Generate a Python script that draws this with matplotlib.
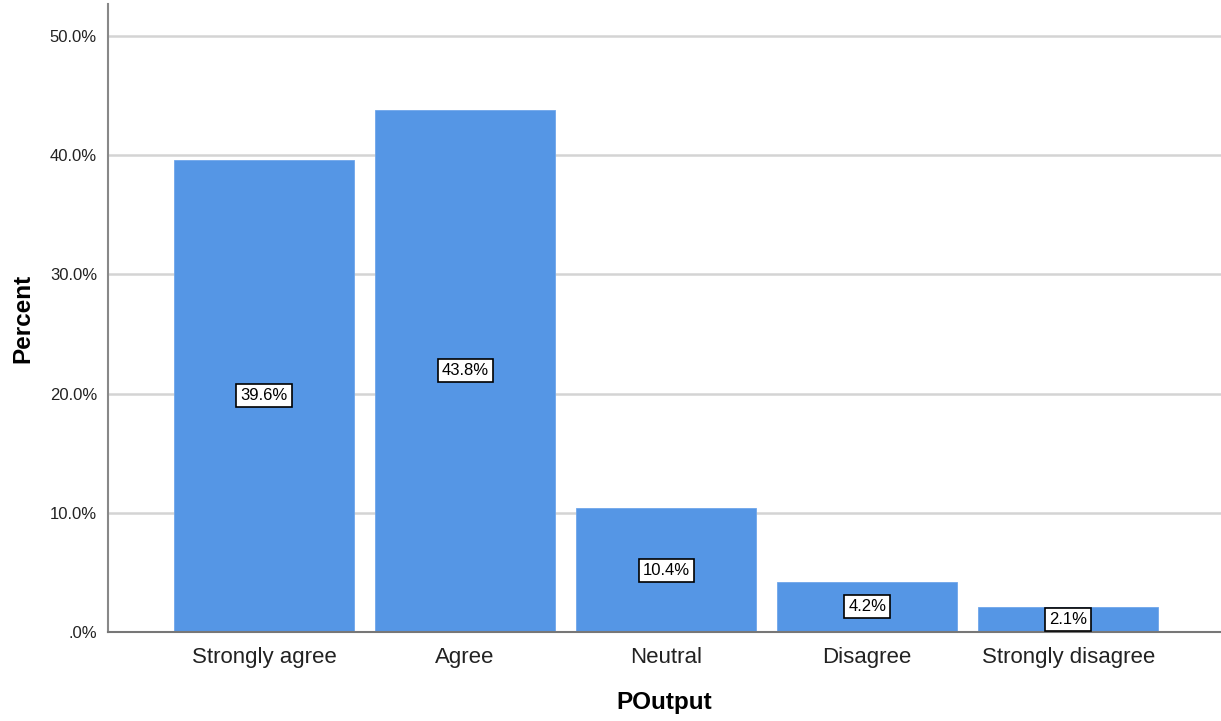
import matplotlib.pyplot as plt
import numpy as np

plt.rcParams.update({
    'font.family': ['Liberation Sans', 'DejaVu Sans'],
})

categories = ['Strongly agree', 'Agree', 'Neutral', 'Disagree', 'Strongly disagree']
percents = [39.6, 43.8, 10.4, 4.2, 2.1]
yticks = [0, 10, 20, 30, 40, 50]
ytick_labels = ['.0%', '10.0%', '20.0%', '30.0%', '40.0%', '50.0%']

BAR_COLOR = '#5596E5'

fig = plt.figure(figsize=(12.21, 7.21), dpi=100)
ax = fig.add_axes([0.0885, 0.1234, 0.9115, 0.8711])

x = np.arange(len(categories))
ax.bar(x, percents, width=0.896, color=BAR_COLOR, edgecolor='#6fa6ea',
       linewidth=0.6, zorder=2)
for xi, v in zip(x, percents):
    ax.text(xi, v / 2, f'{v:.1f}%', ha='center', va='center', fontsize=12,
            color='black', zorder=3,
            bbox=dict(boxstyle='square,pad=0.24', facecolor='white',
                      edgecolor='black', linewidth=1.2))

ax.set_xlim(-0.776, 4.76)
ax.set_ylim(0, 52.68)
ax.set_yticks(yticks)
ax.set_yticklabels(ytick_labels, fontsize=12, color='#222222')
ax.set_xticks(x)
ax.set_xticklabels(categories, fontsize=16, color='#222222')
ax.tick_params(axis='both', length=0)
ax.tick_params(axis='x', pad=11)
ax.tick_params(axis='y', pad=8)
ax.grid(True, axis='y', color='#d4d4d4', linewidth=1.8, zorder=0)
ax.set_axisbelow(True)

ax.spines['top'].set_visible(False)
ax.spines['right'].set_visible(False)
ax.spines['left'].set_color('#888888')
ax.spines['bottom'].set_color('#777777')
ax.spines['left'].set_linewidth(1.5)
ax.spines['bottom'].set_linewidth(1.5)

ax.set_xlabel('POutput', fontsize=17.5, fontweight='bold', labelpad=16)
ax.set_ylabel('Percent', fontsize=17.5, fontweight='bold', labelpad=11)

fig.savefig('out.png', dpi=100)
